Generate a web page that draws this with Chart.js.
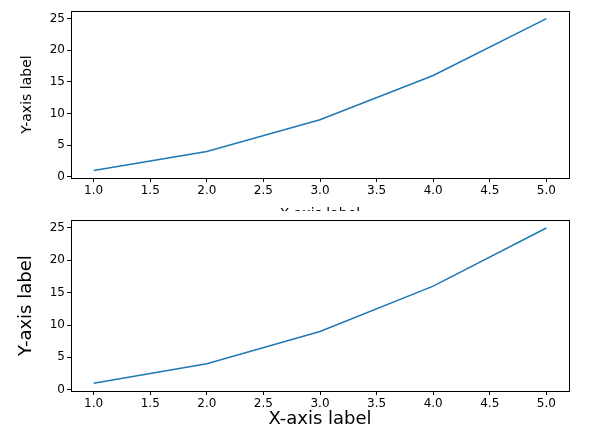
<!DOCTYPE html>
<html><head>
<script src="https://cdn.jsdelivr.net/npm/chart.js@4"></script>
<style>
body{margin:0;width:604px;height:444px;background:#fff;position:relative;overflow:hidden}
#c1{position:absolute;left:0;top:0}
#c2{position:absolute;left:0;top:211px}
</style>
</head><body>
<canvas id="c1" width="604" height="228"></canvas>
<canvas id="c2" width="604" height="233"></canvas>
<script>
var xValues = [1, 2, 3, 4, 5];
var yValues = [1, 4, 9, 16, 25];
var xTicks = [1.0, 1.5, 2.0, 2.5, 3.0, 3.5, 4.0, 4.5, 5.0];
var yTicks = [0, 5, 10, 15, 20, 25];

//white background and axes box//
var boxPlugin = {
  id: 'box',
  beforeDraw: function(chart){
    var c = chart.ctx;
    c.save(); c.fillStyle = '#fff'; c.fillRect(0, 0, chart.width, chart.height); c.restore();
  },
  afterDraw: function(chart){
    var a = chart.chartArea, c = chart.ctx;
    c.save(); c.strokeStyle = '#000'; c.lineWidth = 1;
    c.strokeRect(Math.round(a.left)+0.5, Math.round(a.top)+0.5, Math.round(a.right-a.left), Math.round(a.bottom-a.top));
    c.restore();
  }
};

function makeChart(id, pad, xHeight, yWidth, labelSize){
  return new Chart(id, {
    type: 'line',
    data: {
      datasets: [{
        data: xValues.map(function(v, i){ return {x: v, y: yValues[i]}; }),
        borderColor: '#1f77b4', borderWidth: 1.5, pointRadius: 0, tension: 0
      }]
    },
    options: {
      responsive: false, animation: false,
      layout: { padding: pad },
      plugins: { legend: { display: false }, tooltip: { enabled: false } },
      scales: {
        x: {
          type: 'linear', min: 0.8, max: 5.2,
          afterBuildTicks: function(s){ s.ticks = xTicks.map(function(v){ return {value: v}; }); },
          afterFit: function(s){ s.height = xHeight; },
          ticks: { color: '#000', font: { size: 12, family: 'DejaVu Sans' }, padding: 2, maxRotation: 0,
                   callback: function(v){ return v.toFixed(1); } },
          grid: { drawOnChartArea: false, tickLength: 4, color: '#000' },
          border: { display: false },
          title: { display: true, text: 'X-axis label', color: '#000', padding: 0,
                   font: { size: labelSize, family: 'DejaVu Sans' } }
        },
        y: {
          min: -0.2, max: 26.2,
          afterBuildTicks: function(s){ s.ticks = yTicks.map(function(v){ return {value: v}; }); },
          afterFit: function(s){ s.width = yWidth; },
          ticks: { color: '#000', font: { size: 12, family: 'DejaVu Sans' }, padding: 2 },
          grid: { drawOnChartArea: false, tickLength: 4, color: '#000' },
          border: { display: false },
          title: { display: true, text: 'Y-axis label', color: '#000', padding: 0,
                   font: { size: labelSize, family: 'DejaVu Sans' } }
        }
      }
    },
    plugins: [boxPlugin]
  });
}

makeChart('c1', { top: 11, right: 35, left: 19, bottom: 5 }, 45, 52, 14);
makeChart('c2', { top: 2, right: 35, left: 16, bottom: 14 }, 39, 55, 18);
</script>
</body></html>
